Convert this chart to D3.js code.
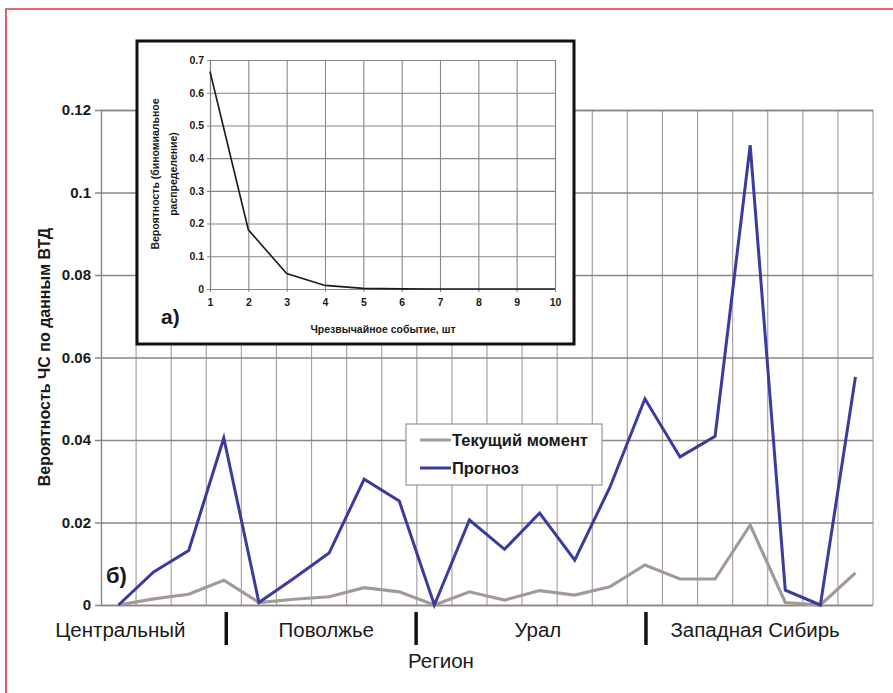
<!DOCTYPE html>
<html>
<head>
<meta charset="utf-8">
<script src="https://cdn.jsdelivr.net/npm/d3@7"></script>
<style>
  html, body { margin: 0; padding: 0; background: #ffffff; }
  svg { display: block; }
</style>
</head>
<body>
<svg id="chart" width="893" height="693"></svg>
<script>
// Main chart: probability of emergencies by region (two series)
const seriesNames = ["Текущий момент", "Прогноз"];
const currentValues = [0, 0.0015, 0.0026, 0.0060, 0.0006, 0.0014, 0.0020, 0.0042, 0.0032, 0, 0.0032,
  0.0012, 0.0035, 0.0024, 0.0044, 0.0097, 0.0063, 0.0063, 0.0194, 0.0006, 0, 0.0078];
const forecastValues = [0, 0.0080, 0.0132, 0.0405, 0.0006, 0.0065, 0.0126, 0.0305, 0.0252, 0, 0.0206,
  0.0135, 0.0223, 0.0109, 0.0285, 0.0500, 0.0359, 0.0409, 0.1115, 0.0036, 0, 0.0553];
const categories = currentValues.map((_, i) => i);
const yTicks = [0, 0.02, 0.04, 0.06, 0.08, 0.1, 0.12];
const yTickLabels = ["0", "0.02", "0.04", "0.06", "0.08", "0.1", "0.12"];

// Region groups along the category axis (in category units)
const regionNames = ["Центральный", "Поволжье", "Урал", "Западная Сибирь"];
const regionCenters = [0.55, 6.42, 12.45, 18.64];
const regionBreaks = [3.57, 8.98, 15.53];

// Inset: binomial distribution of the number of emergencies
const insetEvents = [1, 2, 3, 4, 5, 6, 7, 8, 9, 10];
const insetProb = [0.665, 0.181, 0.047, 0.011, 0.002, 0.0003, 0, 0, 0, 0];
const insetYTicks = [0, 0.1, 0.2, 0.3, 0.4, 0.5, 0.6, 0.7];

const svg = d3.select("#chart");
const FONT = "'Liberation Sans', Arial, Helvetica, sans-serif";

// ---------- main chart ----------
const M = { left: 101, right: 873, top: 110, bottom: 605 };
const x = d3.scaleBand().domain(categories).range([M.left, M.right]).paddingInner(0).paddingOuter(0);
const xc = i => x(i) + x.bandwidth() / 2;
const xu = u => M.left + u * x.bandwidth();   // position in category units
const y = d3.scaleLinear().domain([0, 0.12]).range([M.bottom, M.top]);

const grid = svg.append("g");
// vertical grid lines on category boundaries
grid.selectAll("line.v").data(categories.slice(1).concat([categories.length]))
  .join("line")
  .attr("x1", d => xu(d)).attr("x2", d => xu(d))
  .attr("y1", M.top).attr("y2", M.bottom)
  .attr("stroke", "#a8a3a1").attr("stroke-width", 1.2);

// y axis with tick marks extended as horizontal grid lines
const yAxis = d3.axisLeft(y).tickValues(yTicks)
  .tickFormat((d, i) => yTickLabels[i])
  .tickSize(-(M.right - M.left)).tickPadding(5);
const gy = svg.append("g").attr("transform", `translate(${M.left},0)`).call(yAxis);
gy.select(".domain").attr("stroke", "#8c8582").attr("stroke-width", 1.4);
gy.selectAll(".tick line").attr("stroke", "#8c8582").attr("stroke-width", 1.4).attr("x1", -6);
gy.selectAll(".tick text")
  .attr("x", -10)
  .attr("font-family", FONT).attr("font-weight", "bold").attr("font-size", 15).attr("fill", "#1a1a1a");

// y axis title
svg.append("text")
  .attr("transform", "translate(50,357) rotate(-90)")
  .attr("text-anchor", "middle")
  .attr("font-family", FONT).attr("font-weight", "bold").attr("font-size", 16).attr("fill", "#1a1a1a")
  .text("Вероятность ЧС по данным ВТД");

// series lines
const line = vals => d3.line().x((d, i) => xc(i)).y(d => y(d))(vals);
svg.append("path").attr("d", line(currentValues))
  .attr("fill", "none").attr("stroke", "#a39a96").attr("stroke-width", 3.2).attr("stroke-linejoin", "miter");
svg.append("path").attr("d", line(forecastValues))
  .attr("fill", "none").attr("stroke", "#3b3b9d").attr("stroke-width", 3).attr("stroke-linejoin", "miter");

// panel label
svg.append("text").attr("x", 106).attr("y", 583)
  .attr("font-family", FONT).attr("font-weight", "bold").attr("font-size", 22).attr("fill", "#1a1a1a")
  .text("б)");

// region labels and separators
const regions = svg.append("g");
regions.selectAll("text").data(regionNames).join("text")
  .attr("x", (d, i) => xu(regionCenters[i])).attr("y", 637)
  .attr("text-anchor", "middle")
  .attr("font-family", FONT).attr("font-size", 20.5).attr("fill", "#1a1a1a")
  .text(d => d);
regions.selectAll("line").data(regionBreaks).join("line")
  .attr("x1", d => xu(d)).attr("x2", d => xu(d))
  .attr("y1", 612).attr("y2", 645)
  .attr("stroke", "#111").attr("stroke-width", 3.5);
svg.append("text").attr("x", 441).attr("y", 668).attr("text-anchor", "middle")
  .attr("font-family", FONT).attr("font-size", 20.5).attr("fill", "#1a1a1a")
  .text("Регион");

// legend
const lg = svg.append("g");
lg.append("rect").attr("x", 406).attr("y", 424).attr("width", 196).attr("height", 61)
  .attr("fill", "#ffffff").attr("stroke", "#9a9593").attr("stroke-width", 1.2);
const lgColors = ["#a39a96", "#3b3b9d"];
const lgY = [440, 468];
seriesNames.forEach((name, i) => {
  lg.append("line").attr("x1", 420).attr("x2", 451).attr("y1", lgY[i]).attr("y2", lgY[i])
    .attr("stroke", lgColors[i]).attr("stroke-width", 3);
  lg.append("text").attr("x", 452).attr("y", lgY[i] + 6)
    .attr("font-family", FONT).attr("font-weight", "bold").attr("font-size", 16.5).attr("fill", "#1a1a1a")
    .text(name);
});

// ---------- inset ----------
const inset = svg.append("g");
inset.append("rect").attr("x", 137).attr("y", 41).attr("width", 437).attr("height", 303)
  .attr("fill", "#ffffff").attr("stroke", "#111").attr("stroke-width", 3);

const IM = { left: 210, right: 555, top: 60, bottom: 289 };
const ix = d3.scaleLinear().domain([1, 10]).range([IM.left, IM.right]);
const iy = d3.scaleLinear().domain([0, 0.7]).range([IM.bottom, IM.top]);

const ixAxis = d3.axisBottom(ix).tickValues(insetEvents).tickFormat(d3.format("d"))
  .tickSize(-(IM.bottom - IM.top)).tickPadding(10);
const gix = inset.append("g").attr("transform", `translate(0,${IM.bottom})`).call(ixAxis);
gix.select(".domain").attr("stroke", "#8a8583").attr("stroke-width", 1.1);
gix.selectAll(".tick line").attr("stroke", "#8a8583").attr("stroke-width", 1.1).attr("y1", 3);

const iyAxis = d3.axisLeft(iy).tickValues(insetYTicks).tickFormat(d3.format("~g"))
  .tickSize(-(IM.right - IM.left)).tickPadding(6);
const giy = inset.append("g").attr("transform", `translate(${IM.left},0)`).call(iyAxis);
giy.select(".domain").attr("stroke", "#8a8583").attr("stroke-width", 1.1);
giy.selectAll(".tick line").attr("stroke", "#8a8583").attr("stroke-width", 1.1).attr("x1", -3);

inset.selectAll(".tick text")
  .attr("font-family", FONT).attr("font-weight", "bold").attr("font-size", 10.5).attr("fill", "#1a1a1a");

inset.append("path")
  .attr("d", d3.line().x((d, i) => ix(insetEvents[i])).y(d => iy(d))(insetProb))
  .attr("fill", "none").attr("stroke", "#1a1a1a").attr("stroke-width", 1.6);

inset.append("text").attr("transform", "translate(383,333)").attr("text-anchor", "middle")
  .attr("font-family", FONT).attr("font-weight", "bold").attr("font-size", 10.5).attr("fill", "#1a1a1a")
  .text("Чрезвычайное событие, шт");

const ytitle = inset.append("text").attr("transform", "translate(0,0) rotate(-90)")
  .attr("text-anchor", "middle")
  .attr("font-family", FONT).attr("font-weight", "bold").attr("font-size", 10.5).attr("fill", "#1a1a1a");
ytitle.append("tspan").attr("x", -174).attr("y", 159).text("Вероятность (биномиальное");
ytitle.append("tspan").attr("x", -174).attr("y", 177).text("распределение)");

inset.append("text").attr("x", 161).attr("y", 324)
  .attr("font-family", FONT).attr("font-weight", "bold").attr("font-size", 21).attr("fill", "#1a1a1a")
  .text("а)");

// ---------- page frame ----------
svg.append("path").attr("d", "M6,693 V9 H893")
  .attr("fill", "none").attr("stroke", "#d83a40").attr("stroke-width", 1.6);
</script>
</body>
</html>
